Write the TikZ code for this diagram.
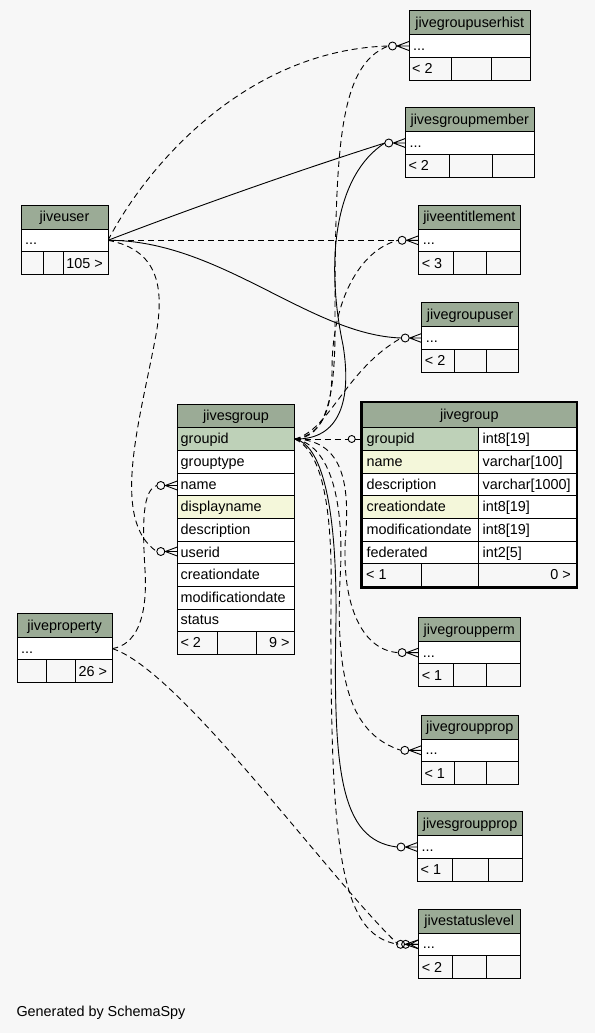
\documentclass[tikz,border=0pt]{standalone}
\usepackage{fontspec}
\setmainfont{Liberation Sans}
\definecolor{bggray}{HTML}{F7F7F7}
\definecolor{hdrgreen}{HTML}{9BAB96}
\definecolor{keygreen}{HTML}{BED1B8}
\definecolor{idxyellow}{HTML}{F4F7DA}

\tikzset{
  cell/.style={draw=black, line width=0.9pt},
  txt/.style={font=\fontsize{14.4}{16}\selectfont, inner sep=0pt},
  rel/.style={draw=black, line width=0.9pt},
  implied/.style={rel, dash pattern=on 6pt off 4pt},
  endmark/.style={draw=black, line width=0.9pt},
}

% small table: id, title, left, right, top, divider 1, divider 2, bottom left, bottom right
\newcommand{\smalltab}[9]{%
  \draw[cell,fill=hdrgreen] (#3,#5) rectangle (#4,#5+24);
  \draw[cell,fill=white] (#3,#5+24) rectangle (#4,#5+46.5);
  \draw[cell] (#3,#5+46.5) rectangle (#6,#5+69.5);
  \draw[cell] (#6,#5+46.5) rectangle (#7,#5+69.5);
  \draw[cell] (#7,#5+46.5) rectangle (#4,#5+69.5);
  \node[txt,anchor=base] (#1) at ({(#3+#4)/2},#5+16.8) {#2};
  \node[txt,anchor=base west] (#1-row) at (#3+4,#5+39.8) {...};
  \node[txt,anchor=base west] (#1-lo) at (#3+3,#5+63) {#8};
  \node[txt,anchor=base east] (#1-hi) at (#4-5,#5+63) {#9};
}
% ports of a small table
\newcommand{\tabports}[3]{%
  \coordinate (#1-edge) at (#2,#3+35.3);
  \coordinate (#1-in) at (#2-20.5,#3+35.3);
}
% zero or many: coordinate at the table edge, shift of the circle
\newcommand{\zeromany}[2]{%
  \begin{scope}[shift={(#1)}]
    \draw[endmark] (#2-16.5,0) circle[radius=4pt];
    \draw[endmark] (0,-4.5) -- (#2-12,0) -- (0,4.5) (#2-12,0) -- (0,0);
  \end{scope}}

\begin{document}
\begin{tikzpicture}[x=1pt,y=-1pt]
  \fill[bggray] (0,0) rectangle (595,1033);
  \useasboundingbox (0,0) rectangle (595,1033);

  % ports
  \coordinate (user-out) at (108,240.3);
  \coordinate (property-out) at (112.3,648.6);
  \coordinate (sgroup-out) at (294.7,439);
  \coordinate (sgname-edge) at (177.3,485.5);
  \coordinate (sgname-in) at (156.8,485.5);
  \coordinate (sguid-edge) at (177.3,551.5);
  \coordinate (sguid-in) at (156.8,551.5);
  \coordinate (group-in) at (348.2,439);
  \tabports{hist}{409}{10.7}
  \tabports{member}{405.3}{107.7}
  \tabports{entitle}{418.6}{205}
  \tabports{guser}{421.7}{302.7}
  \tabports{perm}{418.6}{617.3}
  \tabports{gprop}{421.3}{715}
  \tabports{sgprop}{417.5}{811.7}
  \tabports{status}{418.6}{909}

  % jiveuser relations
  \draw[implied] (user-out) .. controls (150,160) and (250,50) .. (hist-in);
  \draw[rel] (user-out) .. controls (200,205) and (300,170) .. (member-in);
  \draw[implied] (user-out) -- (entitle-in);
  \draw[rel] (user-out) .. controls (220,240) and (310,335) .. (guser-in);
  \draw[implied] (user-out) .. controls (160,250) and (165,290) .. (155,340) .. controls (140,420) and (110,520) .. (sguid-in);

  % jiveproperty relations
  \draw[implied] (property-out) .. controls (135,645) and (148,620) .. (145,570) .. controls (142,520) and (143,490) .. (sgname-in);
  \draw[implied] (property-out) .. controls (180,670) and (330,880) .. (status-in);

  % jivesgroup relations
  \draw[implied] (sgroup-out) .. controls (325,438) and (335,400) .. (335,330) .. controls (335,150) and (338,65) .. (hist-in);
  \draw[rel] (sgroup-out) .. controls (340,440) and (352,400) .. (343,345) .. controls (325,260) and (335,175) .. (member-in);
  \draw[implied] (sgroup-out) .. controls (322,435) and (332,410) .. (332,370) .. controls (332,300) and (360,250) .. (entitle-in);
  \draw[implied] (sgroup-out) .. controls (330,430) and (345,370) .. (guser-in);
  \draw[implied] (sgroup-out) -- (group-in);
  \draw[implied] (sgroup-out) .. controls (335,440) and (350,470) .. (346,530) .. controls (340,600) and (360,650) .. (perm-in);
  \draw[implied] (sgroup-out) .. controls (330,445) and (345,500) .. (340,580) .. controls (335,690) and (355,735) .. (gprop-in);
  \draw[rel] (sgroup-out) .. controls (325,445) and (337,520) .. (336,620) .. controls (333,770) and (340,840) .. (sgprop-in);
  \draw[implied] (sgroup-out) .. controls (320,450) and (333,500) .. (331,600) .. controls (330,850) and (340,935) .. (status-in);

  % small tables
  \smalltab{hist}{jivegroupuserhist}{409}{530.5}{10.7}{451}{491}{< 2}{}
  \smalltab{member}{jivesgroupmember}{405.3}{534.3}{107.7}{449}{492}{< 2}{}
  \smalltab{entitle}{jiveentitlement}{418.6}{520}{205}{453}{486.5}{< 3}{}
  \smalltab{guser}{jivegroupuser}{421.7}{518.7}{302.7}{454.3}{486.7}{< 2}{}
  \smalltab{perm}{jivegroupperm}{418.6}{520}{617.3}{453}{486.5}{< 1}{}
  \smalltab{gprop}{jivegroupprop}{421.3}{518.4}{715}{454.3}{486.5}{< 1}{}
  \smalltab{sgprop}{jivesgroupprop}{417.5}{522.6}{811.7}{452.8}{488.4}{< 1}{}
  \smalltab{status}{jivestatuslevel}{418.6}{520}{909}{452.8}{486.5}{< 2}{}
  \smalltab{user}{jiveuser}{21}{108}{205}{43}{63}{}{105 >}
  \smalltab{property}{jiveproperty}{17}{112.3}{613.3}{46.3}{75.1}{}{26 >}

  % jivesgroup
  \draw[cell,fill=hdrgreen] (177.3,404) rectangle (294.7,427.7);
  \node[txt,anchor=base] (sgroup) at (236,420.6) {jivesgroup};
  \foreach \col/\shade [count=\i from 0] in {groupid/keygreen,grouptype/white,name/white,displayname/idxyellow,description/white,userid/white,creationdate/white,modificationdate/white,status/white}{
    \draw[cell,fill=\shade] (177.3,427.7+22.66*\i) rectangle (294.7,450.36+22.66*\i);
    \node[txt,anchor=base west] (sgroup-\col) at (180.5,443.7+22.66*\i) {\col};
  }
  \draw[cell] (177.3,631.6) rectangle (217,654.3);
  \draw[cell] (217,631.6) rectangle (256.3,654.3);
  \draw[cell] (256.3,631.6) rectangle (294.7,654.3);
  \node[txt,anchor=base west] (sgroup-lo) at (180.3,647.7) {< 2};
  \node[txt,anchor=base east] (sgroup-hi) at (289.7,647.7) {9 >};

  % jivegroup
  \draw[cell,fill=hdrgreen] (362.7,402.7) rectangle (576,427.7);
  \node[txt,anchor=base] (group) at (469.3,419.9) {jivegroup};
  \foreach \col/\type/\shade [count=\i from 0] in {groupid/int8[19]/keygreen,name/varchar[100]/idxyellow,description/varchar[1000]/white,creationdate/int8[19]/idxyellow,modificationdate/int8[19]/white,federated/int2[5]/white}{
    \draw[cell,fill=\shade] (362.7,427.7+22.66*\i) rectangle (478.3,450.36+22.66*\i);
    \draw[cell,fill=white] (478.3,427.7+22.66*\i) rectangle (576,450.36+22.66*\i);
    \node[txt,anchor=base west] (group-\col) at (366.5,443.7+22.66*\i) {\col};
    \node[txt,anchor=base west] (group-\col-type) at (482.5,443.7+22.66*\i) {\type};
  }
  \draw[cell] (362.7,563.66) rectangle (421,586.3);
  \draw[cell] (421,563.66) rectangle (478.3,586.3);
  \draw[cell] (478.3,563.66) rectangle (576,586.3);
  \node[txt,anchor=base west] (group-lo) at (366,579.7) {< 1};
  \node[txt,anchor=base east] (group-hi) at (571,579.7) {0 >};
  \draw[line width=2.5pt] (361.35,401.85) rectangle (577.15,587.85);

  % ends
  \zeromany{hist-edge}{0}
  \zeromany{member-edge}{0}
  \zeromany{entitle-edge}{0}
  \zeromany{guser-edge}{0}
  \zeromany{perm-edge}{0}
  \zeromany{gprop-edge}{0}
  \zeromany{sgprop-edge}{0}
  \zeromany{status-edge}{-1.5}
  \zeromany{status-edge}{3.5}
  \zeromany{sgname-edge}{0}
  \zeromany{sguid-edge}{0}
  \draw[endmark] (351.7,439) circle[radius=3.5pt];
  \draw[endmark] (355.2,439) -- (361,439);
  \draw[line width=2.2pt] (361.6,434.5) -- (361.6,443.5);

  \node[txt,anchor=base west] (credit) at (16.3,1016.7) {Generated by SchemaSpy};
\end{tikzpicture}
\end{document}
